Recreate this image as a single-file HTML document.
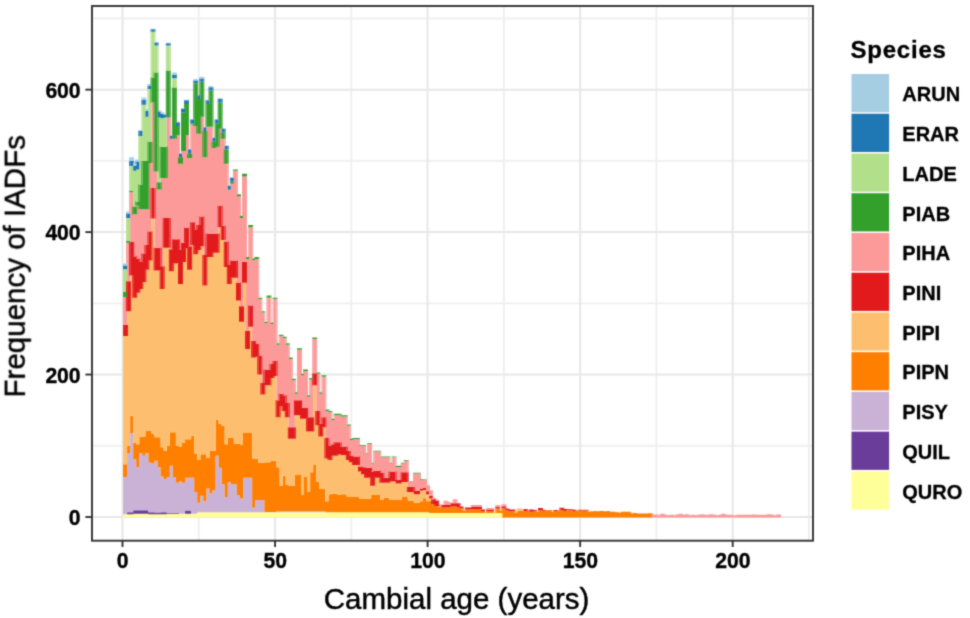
<!DOCTYPE html>
<html><head><meta charset="utf-8"><title>IADF frequency by cambial age</title>
<style>html,body{margin:0;padding:0;background:#fff;width:970px;height:618px;overflow:hidden}svg{display:block}</style>
</head><body><div id="c">
<svg width="970" height="618" viewBox="0 0 970 618"><defs><filter id="soft" filterUnits="userSpaceOnUse" x="0" y="0" width="970" height="618" color-interpolation-filters="sRGB"><feConvolveMatrix order="5" kernelMatrix="0.00001 0.00042 0.00170 0.00042 0.00001 0.00042 0.02740 0.10988 0.02740 0.00042 0.00170 0.10988 0.44065 0.10988 0.00170 0.00042 0.02740 0.10988 0.02740 0.00042 0.00001 0.00042 0.00170 0.00042 0.00001" edgeMode="duplicate"/></filter><filter id="soft2" filterUnits="userSpaceOnUse" x="0" y="0" width="970" height="618" color-interpolation-filters="sRGB"><feConvolveMatrix order="5" kernelMatrix="0.00048 0.00501 0.01095 0.00501 0.00048 0.00501 0.05222 0.11405 0.05222 0.00501 0.01095 0.11405 0.24912 0.11405 0.01095 0.00501 0.05222 0.11405 0.05222 0.00501 0.00048 0.00501 0.01095 0.00501 0.00048" edgeMode="none"/></filter></defs><g filter="url(#soft)"><rect x="0" y="0" width="970" height="618" fill="#fff"/><line x1="198.78" y1="6.0" x2="198.78" y2="540.7" stroke="#EFEFEF" stroke-width="1.9"/><line x1="351.33" y1="6.0" x2="351.33" y2="540.7" stroke="#EFEFEF" stroke-width="1.9"/><line x1="503.88" y1="6.0" x2="503.88" y2="540.7" stroke="#EFEFEF" stroke-width="1.9"/><line x1="656.43" y1="6.0" x2="656.43" y2="540.7" stroke="#EFEFEF" stroke-width="1.9"/><line x1="808.98" y1="6.0" x2="808.98" y2="540.7" stroke="#EFEFEF" stroke-width="1.9"/><line x1="92.0" y1="445.78" x2="813.0" y2="445.78" stroke="#EFEFEF" stroke-width="1.9"/><line x1="92.0" y1="303.34" x2="813.0" y2="303.34" stroke="#EFEFEF" stroke-width="1.9"/><line x1="92.0" y1="160.90" x2="813.0" y2="160.90" stroke="#EFEFEF" stroke-width="1.9"/><line x1="92.0" y1="18.46" x2="813.0" y2="18.46" stroke="#EFEFEF" stroke-width="1.9"/><line x1="122.50" y1="6.0" x2="122.50" y2="540.7" stroke="#E7E7E7" stroke-width="2.0"/><line x1="275.05" y1="6.0" x2="275.05" y2="540.7" stroke="#E7E7E7" stroke-width="2.0"/><line x1="427.60" y1="6.0" x2="427.60" y2="540.7" stroke="#E7E7E7" stroke-width="2.0"/><line x1="580.15" y1="6.0" x2="580.15" y2="540.7" stroke="#E7E7E7" stroke-width="2.0"/><line x1="732.70" y1="6.0" x2="732.70" y2="540.7" stroke="#E7E7E7" stroke-width="2.0"/><line x1="92.0" y1="517.00" x2="813.0" y2="517.00" stroke="#E7E7E7" stroke-width="2.0"/><line x1="92.0" y1="374.56" x2="813.0" y2="374.56" stroke="#E7E7E7" stroke-width="2.0"/><line x1="92.0" y1="232.12" x2="813.0" y2="232.12" stroke="#E7E7E7" stroke-width="2.0"/><line x1="92.0" y1="89.68" x2="813.0" y2="89.68" stroke="#E7E7E7" stroke-width="2.0"/><g><path fill="#FFFF99" d="M124.03 514.29H127.08V517.60H124.03ZM127.08 514.29H130.13V517.60H127.08ZM130.13 514.29H133.18V517.60H130.13ZM133.18 513.80H136.23V517.60H133.18ZM136.23 513.80H139.28V517.60H136.23ZM139.28 513.80H142.33V517.60H139.28ZM142.33 513.80H145.38V517.60H142.33ZM145.38 513.80H148.43V517.60H145.38ZM148.43 514.29H151.48V517.60H148.43ZM151.48 514.29H154.54V517.60H151.48ZM154.54 514.29H157.59V517.60H154.54ZM157.59 514.29H160.64V517.60H157.59ZM160.64 514.29H163.69V517.60H160.64ZM163.69 514.29H166.74V517.60H163.69ZM166.74 513.80H169.79V517.60H166.74ZM169.79 513.80H172.84V517.60H169.79ZM172.84 513.80H175.89V517.60H172.84ZM175.89 513.80H178.94V517.60H175.89ZM178.94 513.80H181.99V517.60H178.94ZM181.99 513.80H185.05V517.60H181.99ZM185.05 513.80H188.10V517.60H185.05ZM188.10 513.80H191.15V517.60H188.10ZM191.15 513.80H194.20V517.60H191.15ZM194.20 513.80H197.25V517.60H194.20ZM197.25 512.37H200.30V517.60H197.25ZM200.30 512.37H203.35V517.60H200.30ZM203.35 512.37H206.40V517.60H203.35ZM206.40 512.37H209.45V517.60H206.40ZM209.45 512.37H212.50V517.60H209.45ZM212.50 512.37H215.56V517.60H212.50ZM215.56 512.37H218.61V517.60H215.56ZM218.61 512.37H221.66V517.60H218.61ZM221.66 512.37H224.71V517.60H221.66ZM224.71 512.37H227.76V517.60H224.71ZM227.76 512.37H230.81V517.60H227.76ZM230.81 512.37H233.86V517.60H230.81ZM233.86 512.37H236.91V517.60H233.86ZM236.91 512.37H239.96V517.60H236.91ZM239.96 512.37H243.01V517.60H239.96ZM243.01 512.37H246.07V517.60H243.01ZM246.07 512.37H249.12V517.60H246.07ZM249.12 512.37H252.17V517.60H249.12ZM252.17 512.37H255.22V517.60H252.17ZM255.22 512.37H258.27V517.60H255.22ZM258.27 512.37H261.32V517.60H258.27ZM261.32 512.37H264.37V517.60H261.32ZM264.37 512.37H267.42V517.60H264.37ZM267.42 512.37H270.47V517.60H267.42ZM270.47 512.37H273.52V517.60H270.47ZM273.52 512.37H276.58V517.60H273.52ZM276.58 512.37H279.63V517.60H276.58ZM279.63 512.37H282.68V517.60H279.63ZM282.68 512.37H285.73V517.60H282.68ZM285.73 512.37H288.78V517.60H285.73ZM288.78 512.37H291.83V517.60H288.78ZM291.83 512.37H294.88V517.60H291.83ZM294.88 512.37H297.93V517.60H294.88ZM297.93 512.37H300.98V517.60H297.93ZM300.98 512.37H304.03V517.60H300.98ZM304.03 512.37H307.09V517.60H304.03ZM307.09 512.37H310.14V517.60H307.09ZM310.14 512.37H313.19V517.60H310.14ZM313.19 512.37H316.24V517.60H313.19ZM316.24 512.37H319.29V517.60H316.24ZM319.29 512.37H322.34V517.60H319.29ZM322.34 512.37H325.39V517.60H322.34ZM325.39 512.37H328.44V517.60H325.39ZM328.44 512.37H331.49V517.60H328.44ZM331.49 512.37H334.54V517.60H331.49ZM334.54 512.37H337.60V517.60H334.54ZM337.60 512.37H340.65V517.60H337.60ZM340.65 512.37H343.70V517.60H340.65ZM343.70 512.37H346.75V517.60H343.70ZM346.75 512.37H349.80V517.60H346.75ZM349.80 512.37H352.85V517.60H349.80ZM352.85 512.37H355.90V517.60H352.85ZM355.90 512.37H358.95V517.60H355.90ZM358.95 512.37H362.00V517.60H358.95ZM362.00 512.37H365.05V517.60H362.00ZM365.05 512.37H368.11V517.60H365.05ZM368.11 512.37H371.16V517.60H368.11ZM371.16 512.37H374.21V517.60H371.16ZM374.21 512.37H377.26V517.60H374.21ZM377.26 512.37H380.31V517.60H377.26ZM380.31 512.37H383.36V517.60H380.31ZM383.36 512.37H386.41V517.60H383.36ZM386.41 512.37H389.46V517.60H386.41ZM389.46 512.37H392.51V517.60H389.46ZM392.51 512.37H395.56V517.60H392.51ZM395.56 512.37H398.62V517.60H395.56ZM398.62 512.37H401.67V517.60H398.62ZM401.67 512.37H404.72V517.60H401.67ZM404.72 512.37H407.77V517.60H404.72ZM407.77 512.37H410.82V517.60H407.77ZM410.82 512.37H413.87V517.60H410.82ZM413.87 512.37H416.92V517.60H413.87ZM416.92 512.37H419.97V517.60H416.92ZM419.97 512.37H423.02V517.60H419.97ZM423.02 512.37H426.07V517.60H423.02ZM426.07 512.37H429.13V517.60H426.07ZM429.13 513.08H432.18V517.60H429.13ZM432.18 513.08H435.23V517.60H432.18ZM435.23 513.08H438.28V517.60H435.23ZM438.28 513.08H441.33V517.60H438.28ZM441.33 513.08H444.38V517.60H441.33ZM444.38 513.08H447.43V517.60H444.38ZM447.43 513.08H450.48V517.60H447.43ZM450.48 513.08H453.53V517.60H450.48ZM453.53 513.08H456.58V517.60H453.53ZM456.58 513.08H459.64V517.60H456.58ZM459.64 513.08H462.69V517.60H459.64ZM462.69 513.08H465.74V517.60H462.69ZM465.74 513.08H468.79V517.60H465.74ZM468.79 513.08H471.84V517.60H468.79ZM471.84 513.08H474.89V517.60H471.84ZM474.89 513.08H477.94V517.60H474.89ZM477.94 513.08H480.99V517.60H477.94ZM480.99 513.08H484.04V517.60H480.99ZM484.04 513.08H487.09V517.60H484.04ZM487.09 513.08H490.15V517.60H487.09ZM490.15 513.08H493.20V517.60H490.15ZM493.20 513.08H496.25V517.60H493.20ZM496.25 513.08H499.30V517.60H496.25ZM499.30 513.08H502.35V517.60H499.30Z"/><path fill="#6A3D9A" d="M127.08 512.16H130.13V514.29H127.08ZM130.13 512.16H133.18V514.29H130.13ZM133.18 510.23H136.23V513.80H133.18ZM136.23 510.23H139.28V513.80H136.23ZM139.28 510.23H142.33V513.80H139.28ZM142.33 510.23H145.38V513.80H142.33ZM145.38 510.23H148.43V513.80H145.38ZM148.43 512.16H151.48V514.29H148.43ZM151.48 512.16H154.54V514.29H151.48ZM154.54 512.51H157.59V514.29H154.54ZM157.59 512.51H160.64V514.29H157.59ZM160.64 512.16H163.69V514.29H160.64ZM163.69 512.16H166.74V514.29H163.69ZM166.74 512.73H169.79V513.80H166.74ZM169.79 512.73H172.84V513.80H169.79ZM172.84 512.73H175.89V513.80H172.84ZM175.89 512.73H178.94V513.80H175.89ZM185.05 510.59H188.10V513.80H185.05ZM188.10 510.59H191.15V513.80H188.10Z"/><path fill="#CAB2D6" d="M124.03 477.12H127.08V514.29H124.03ZM127.08 452.90H130.13V512.16H127.08ZM130.13 432.96H133.18V512.16H130.13ZM133.18 459.31H136.23V510.23H133.18ZM136.23 467.15H139.28V510.23H136.23ZM139.28 452.90H142.33V510.23H139.28ZM142.33 455.75H145.38V510.23H142.33ZM145.38 452.90H148.43V510.23H145.38ZM148.43 462.87H151.48V512.16H148.43ZM151.48 463.58H154.54V512.16H151.48ZM154.54 460.74H157.59V512.51H154.54ZM157.59 467.15H160.64V512.51H157.59ZM160.64 476.40H163.69V512.16H160.64ZM163.69 479.25H166.74V512.16H163.69ZM166.74 477.12H169.79V512.73H166.74ZM169.79 465.72H172.84V512.73H169.79ZM172.84 477.12H175.89V512.73H172.84ZM175.89 482.81H178.94V512.73H175.89ZM178.94 481.39H181.99V513.80H178.94ZM181.99 482.81H185.05V513.80H181.99ZM185.05 477.83H188.10V510.59H185.05ZM188.10 477.83H191.15V510.59H188.10ZM191.15 477.83H194.20V513.80H191.15ZM194.20 492.07H197.25V513.80H194.20ZM197.25 502.76H200.30V512.37H197.25ZM200.30 495.63H203.35V512.37H200.30ZM203.35 501.33H206.40V512.37H203.35ZM206.40 488.51H209.45V512.37H206.40ZM209.45 493.50H212.50V512.37H209.45ZM212.50 489.94H215.56V512.37H212.50ZM215.56 455.75H218.61V512.37H215.56ZM218.61 467.86H221.66V512.37H218.61ZM221.66 484.24H224.71V512.37H221.66ZM224.71 497.06H227.76V512.37H224.71ZM227.76 482.10H230.81V512.37H227.76ZM230.81 484.24H233.86V512.37H230.81ZM233.86 484.24H236.91V512.37H233.86ZM236.91 494.92H239.96V512.37H236.91ZM239.96 498.48H243.01V512.37H239.96ZM243.01 477.83H246.07V512.37H243.01ZM246.07 477.83H249.12V512.37H246.07ZM249.12 477.83H252.17V512.37H249.12ZM252.17 507.74H255.22V512.37H252.17ZM255.22 499.91H258.27V512.37H255.22ZM258.27 499.91H261.32V512.37H258.27ZM261.32 499.91H264.37V512.37H261.32ZM264.37 512.01H267.42V512.37H264.37ZM267.42 512.01H270.47V512.37H267.42ZM270.47 512.01H273.52V512.37H270.47ZM273.52 512.01H276.58V512.37H273.52ZM276.58 510.95H279.63V512.37H276.58ZM279.63 510.95H282.68V512.37H279.63ZM282.68 510.95H285.73V512.37H282.68ZM285.73 510.95H288.78V512.37H285.73ZM288.78 510.95H291.83V512.37H288.78ZM291.83 510.95H294.88V512.37H291.83ZM294.88 510.95H297.93V512.37H294.88ZM297.93 510.95H300.98V512.37H297.93ZM300.98 510.95H304.03V512.37H300.98ZM304.03 510.95H307.09V512.37H304.03ZM307.09 510.95H310.14V512.37H307.09ZM310.14 510.95H313.19V512.37H310.14ZM313.19 510.95H316.24V512.37H313.19ZM316.24 510.95H319.29V512.37H316.24ZM319.29 510.95H322.34V512.37H319.29ZM322.34 510.95H325.39V512.37H322.34Z"/><path fill="#FF7F00" d="M124.03 464.30H127.08V477.12H124.03ZM127.08 445.78H130.13V452.90H127.08ZM130.13 415.87H133.18V432.96H130.13ZM133.18 442.93H136.23V459.31H133.18ZM136.23 444.36H139.28V467.15H136.23ZM139.28 436.52H142.33V452.90H139.28ZM142.33 436.52H145.38V455.75H142.33ZM145.38 430.82H148.43V452.90H145.38ZM148.43 430.82H151.48V462.87H148.43ZM151.48 433.67H154.54V463.58H151.48ZM154.54 437.23H157.59V460.74H154.54ZM157.59 437.23H160.64V467.15H157.59ZM160.64 447.20H163.69V476.40H160.64ZM163.69 450.77H166.74V479.25H163.69ZM166.74 445.78H169.79V477.12H166.74ZM169.79 432.25H172.84V465.72H169.79ZM172.84 432.25H175.89V477.12H172.84ZM175.89 445.78H178.94V482.81H175.89ZM178.94 446.49H181.99V481.39H178.94ZM181.99 442.93H185.05V482.81H181.99ZM185.05 439.37H188.10V477.83H185.05ZM188.10 439.37H191.15V477.83H188.10ZM191.15 435.81H194.20V477.83H191.15ZM194.20 453.61H197.25V492.07H194.20ZM197.25 460.02H200.30V502.76H197.25ZM200.30 454.33H203.35V495.63H200.30ZM203.35 454.33H206.40V501.33H203.35ZM206.40 457.89H209.45V488.51H206.40ZM209.45 450.77H212.50V493.50H209.45ZM212.50 450.77H215.56V489.94H212.50ZM215.56 419.43H218.61V455.75H215.56ZM218.61 423.70H221.66V467.86H218.61ZM221.66 425.84H224.71V484.24H221.66ZM224.71 444.36H227.76V497.06H224.71ZM227.76 437.95H230.81V482.10H227.76ZM230.81 437.95H233.86V484.24H230.81ZM233.86 443.64H236.91V484.24H233.86ZM236.91 443.64H239.96V494.92H236.91ZM239.96 445.07H243.01V498.48H239.96ZM243.01 432.96H246.07V477.83H243.01ZM246.07 432.96H249.12V477.83H246.07ZM249.12 432.96H252.17V477.83H249.12ZM252.17 458.60H255.22V507.74H252.17ZM255.22 458.60H258.27V499.91H255.22ZM258.27 462.87H261.32V499.91H258.27ZM261.32 462.87H264.37V499.91H261.32ZM264.37 462.16H267.42V512.01H264.37ZM267.42 462.16H270.47V512.01H267.42ZM270.47 460.74H273.52V512.01H270.47ZM273.52 460.74H276.58V512.01H273.52ZM276.58 467.15H279.63V510.95H276.58ZM279.63 485.66H282.68V510.95H279.63ZM282.68 475.69H285.73V510.95H282.68ZM285.73 484.95H288.78V510.95H285.73ZM288.78 485.66H291.83V510.95H288.78ZM291.83 485.66H294.88V510.95H291.83ZM294.88 474.98H297.93V510.95H294.88ZM297.93 474.98H300.98V510.95H297.93ZM300.98 494.92H304.03V510.95H300.98ZM304.03 477.12H307.09V510.95H304.03ZM307.09 492.07H310.14V510.95H307.09ZM310.14 472.13H313.19V510.95H310.14ZM313.19 465.01H316.24V510.95H313.19ZM316.24 481.39H319.29V510.95H316.24ZM319.29 488.51H322.34V510.95H319.29ZM322.34 488.51H325.39V510.95H322.34ZM325.39 501.33H328.44V512.37H325.39ZM328.44 494.21H331.49V512.37H328.44ZM331.49 493.50H334.54V512.37H331.49ZM334.54 493.50H337.60V512.37H334.54ZM337.60 494.92H340.65V512.37H337.60ZM340.65 494.21H343.70V512.37H340.65ZM343.70 494.21H346.75V512.37H343.70ZM346.75 497.06H349.80V512.37H346.75ZM349.80 497.06H352.85V512.37H349.80ZM352.85 497.06H355.90V512.37H352.85ZM355.90 497.06H358.95V512.37H355.90ZM358.95 498.48H362.00V512.37H358.95ZM362.00 498.48H365.05V512.37H362.00ZM365.05 498.48H368.11V512.37H365.05ZM368.11 498.48H371.16V512.37H368.11ZM371.16 494.92H374.21V512.37H371.16ZM374.21 494.92H377.26V512.37H374.21ZM377.26 494.92H380.31V512.37H377.26ZM380.31 499.91H383.36V512.37H380.31ZM383.36 497.77H386.41V512.37H383.36ZM386.41 497.77H389.46V512.37H386.41ZM389.46 499.91H392.51V512.37H389.46ZM392.51 499.91H395.56V512.37H392.51ZM395.56 499.91H398.62V512.37H395.56ZM398.62 499.91H401.67V512.37H398.62ZM401.67 497.06H404.72V512.37H401.67ZM404.72 497.06H407.77V512.37H404.72ZM407.77 500.62H410.82V512.37H407.77ZM410.82 500.62H413.87V512.37H410.82ZM413.87 502.76H416.92V512.37H413.87ZM416.92 502.76H419.97V512.37H416.92ZM419.97 501.33H423.02V512.37H419.97ZM423.02 498.13H426.07V512.37H423.02ZM426.07 501.33H429.13V512.37H426.07ZM429.13 500.69H432.18V513.08H429.13ZM432.18 504.32H435.23V513.08H432.18ZM435.23 505.89H438.28V513.08H435.23ZM438.28 506.46H441.33V513.08H438.28ZM441.33 507.46H444.38V513.08H441.33ZM444.38 507.46H447.43V513.08H444.38ZM447.43 507.46H450.48V513.08H447.43ZM450.48 506.46H453.53V513.08H450.48ZM453.53 506.46H456.58V513.08H453.53ZM456.58 507.46H459.64V513.08H456.58ZM459.64 508.45H462.69V513.08H459.64ZM462.69 510.59H465.74V513.08H462.69ZM465.74 509.52H468.79V513.08H465.74ZM468.79 509.52H471.84V513.08H468.79ZM471.84 509.17H474.89V513.08H471.84ZM474.89 509.02H477.94V513.08H474.89ZM477.94 509.17H480.99V513.08H477.94ZM480.99 511.59H484.04V513.08H480.99ZM484.04 512.37H487.09V513.08H484.04ZM487.09 511.09H490.15V513.08H487.09ZM490.15 511.09H493.20V513.08H490.15ZM493.20 512.66H496.25V513.08H493.20ZM496.25 508.45H499.30V513.08H496.25ZM499.30 510.59H502.35V513.08H499.30ZM502.35 508.45H505.40V517.60H502.35ZM505.40 510.59H508.45V517.60H505.40ZM508.45 511.59H511.50V517.60H508.45ZM511.50 511.30H514.55V517.60H511.50ZM514.55 512.66H517.60V517.60H514.55ZM517.60 510.80H520.66V517.60H517.60ZM520.66 510.80H523.71V517.60H520.66ZM523.71 511.16H526.76V517.60H523.71ZM526.76 511.44H529.81V517.60H526.76ZM529.81 511.73H532.86V517.60H529.81ZM532.86 511.16H535.91V517.60H532.86ZM535.91 511.73H538.96V517.60H535.91ZM538.96 510.23H542.01V517.60H538.96ZM542.01 510.80H545.06V517.60H542.01ZM545.06 510.23H548.11V517.60H545.06ZM548.11 509.88H551.17V517.60H548.11ZM551.17 511.73H554.22V517.60H551.17ZM554.22 511.16H557.27V517.60H554.22ZM557.27 510.23H560.32V517.60H557.27ZM560.32 509.88H563.37V517.60H560.32ZM563.37 511.16H566.42V517.60H563.37ZM566.42 510.23H569.47V517.60H566.42ZM569.47 510.23H572.52V517.60H569.47ZM572.52 511.44H575.57V517.60H572.52ZM575.57 510.80H578.62V517.60H575.57ZM578.62 510.59H581.68V517.60H578.62ZM581.68 510.59H584.73V517.60H581.68ZM584.73 510.59H587.78V517.60H584.73ZM587.78 511.87H590.83V517.60H587.78ZM590.83 511.30H593.88V517.60H590.83ZM593.88 511.87H596.93V517.60H593.88ZM596.93 511.30H599.98V517.60H596.93ZM599.98 511.52H603.03V517.60H599.98ZM603.03 511.30H606.08V517.60H603.03ZM606.08 511.87H609.13V517.60H606.08ZM609.13 511.87H612.19V517.60H609.13ZM612.19 511.87H615.24V517.60H612.19ZM615.24 512.16H618.29V517.60H615.24ZM618.29 513.08H621.34V517.60H618.29ZM621.34 511.66H624.39V517.60H621.34ZM624.39 511.66H627.44V517.60H624.39ZM627.44 511.66H630.49V517.60H627.44ZM630.49 513.58H633.54V517.60H630.49ZM633.54 513.01H636.59V517.60H633.54ZM636.59 513.58H639.64V517.60H636.59ZM639.64 513.58H642.70V517.60H639.64ZM642.70 513.58H645.75V517.60H642.70ZM645.75 513.58H648.80V517.60H645.75ZM648.80 513.30H651.85V517.60H648.80Z"/><path fill="#FDBF6F" d="M124.03 336.10H127.08V464.30H124.03ZM127.08 311.17H130.13V445.78H127.08ZM130.13 275.56H133.18V415.87H130.13ZM133.18 297.64H136.23V442.93H133.18ZM136.23 292.66H139.28V444.36H136.23ZM139.28 289.10H142.33V436.52H139.28ZM142.33 281.97H145.38V436.52H142.33ZM145.38 269.87H148.43V430.82H145.38ZM148.43 260.61H151.48V430.82H148.43ZM151.48 218.59H154.54V433.67H151.48ZM154.54 270.58H157.59V437.23H154.54ZM157.59 270.58H160.64V437.23H157.59ZM160.64 289.10H163.69V447.20H160.64ZM163.69 247.79H166.74V450.77H163.69ZM166.74 247.79H169.79V445.78H166.74ZM169.79 271.29H172.84V432.25H169.79ZM172.84 263.46H175.89V432.25H172.84ZM175.89 263.46H178.94V445.78H175.89ZM178.94 284.11H181.99V446.49H178.94ZM181.99 262.03H185.05V442.93H181.99ZM185.05 248.50H188.10V439.37H185.05ZM188.10 269.87H191.15V439.37H188.10ZM191.15 244.94H194.20V435.81H191.15ZM194.20 254.20H197.25V453.61H194.20ZM197.25 249.92H200.30V460.02H197.25ZM200.30 246.36H203.35V454.33H200.30ZM203.35 285.53H206.40V454.33H203.35ZM206.40 257.05H209.45V457.89H206.40ZM209.45 257.05H212.50V450.77H209.45ZM212.50 252.77H215.56V450.77H212.50ZM215.56 252.77H218.61V419.43H215.56ZM218.61 227.13H221.66V423.70H218.61ZM221.66 239.95H224.71V425.84H221.66ZM224.71 267.02H227.76V444.36H224.71ZM227.76 284.11H230.81V437.95H227.76ZM230.81 277.70H233.86V437.95H230.81ZM233.86 277.70H236.91V443.64H233.86ZM236.91 300.49H239.96V443.64H236.91ZM239.96 321.86H243.01V445.07H239.96ZM243.01 282.69H246.07V432.96H243.01ZM246.07 348.92H249.12V432.96H246.07ZM249.12 326.84H252.17V432.96H249.12ZM252.17 357.47H255.22V458.60H252.17ZM255.22 356.75H258.27V458.60H255.22ZM258.27 374.56H261.32V462.87H258.27ZM261.32 394.50H264.37V462.87H261.32ZM264.37 385.24H267.42V462.16H264.37ZM267.42 385.24H270.47V462.16H267.42ZM270.47 378.12H273.52V460.74H270.47ZM273.52 375.98H276.58V460.74H273.52ZM276.58 417.29H279.63V467.15H276.58ZM279.63 406.61H282.68V485.66H279.63ZM282.68 410.88H285.73V475.69H282.68ZM285.73 417.29H288.78V484.95H285.73ZM288.78 438.66H291.83V485.66H288.78ZM291.83 438.66H294.88V485.66H291.83ZM294.88 415.16H297.93V474.98H294.88ZM297.93 415.16H300.98V474.98H297.93ZM300.98 418.72H304.03V494.92H300.98ZM304.03 418.72H307.09V477.12H304.03ZM307.09 431.54H310.14V492.07H307.09ZM310.14 431.54H313.19V472.13H310.14ZM313.19 385.24H316.24V465.01H313.19ZM316.24 425.13H319.29V481.39H316.24ZM319.29 436.52H322.34V488.51H319.29ZM322.34 427.26H325.39V488.51H322.34ZM325.39 458.60H328.44V501.33H325.39ZM328.44 460.02H331.49V494.21H328.44ZM331.49 455.75H334.54V493.50H331.49ZM334.54 455.75H337.60V493.50H334.54ZM337.60 454.33H340.65V494.92H337.60ZM340.65 455.04H343.70V494.21H340.65ZM343.70 455.04H346.75V494.21H343.70ZM346.75 460.02H349.80V497.06H346.75ZM349.80 462.16H352.85V497.06H349.80ZM352.85 465.01H355.90V497.06H352.85ZM355.90 465.01H358.95V497.06H355.90ZM358.95 471.42H362.00V498.48H358.95ZM362.00 474.27H365.05V498.48H362.00ZM365.05 477.83H368.11V498.48H365.05ZM368.11 477.83H371.16V498.48H368.11ZM371.16 485.66H374.21V494.92H371.16ZM374.21 477.83H377.26V494.92H374.21ZM377.26 477.83H380.31V494.92H377.26ZM380.31 482.81H383.36V499.91H380.31ZM383.36 482.81H386.41V497.77H383.36ZM386.41 482.81H389.46V497.77H386.41ZM389.46 481.39H392.51V499.91H389.46ZM392.51 481.39H395.56V499.91H392.51ZM395.56 483.53H398.62V499.91H395.56ZM398.62 483.53H401.67V499.91H398.62ZM401.67 482.10H404.72V497.06H401.67ZM404.72 482.10H407.77V497.06H404.72ZM407.77 492.07H410.82V500.62H407.77ZM410.82 492.07H413.87V500.62H410.82ZM413.87 494.21H416.92V502.76H413.87ZM416.92 494.21H419.97V502.76H416.92ZM419.97 490.65H423.02V501.33H419.97ZM423.02 489.94H426.07V498.13H423.02ZM426.07 494.21H429.13V501.33H426.07ZM429.13 498.48H432.18V500.69H429.13ZM432.18 504.18H435.23V504.32H432.18ZM517.60 509.02H520.66V510.80H517.60ZM520.66 509.02H523.71V510.80H520.66Z"/><path fill="#E31A1C" d="M124.03 324.71H127.08V336.10H124.03ZM127.08 281.26H130.13V311.17H127.08ZM130.13 242.09H133.18V275.56H130.13ZM133.18 256.33H136.23V297.64H133.18ZM136.23 258.47H139.28V292.66H136.23ZM139.28 262.03H142.33V289.10H139.28ZM142.33 253.49H145.38V281.97H142.33ZM145.38 244.94H148.43V269.87H145.38ZM148.43 231.41H151.48V260.61H148.43ZM151.48 187.96H154.54V218.59H151.48ZM154.54 247.79H157.59V270.58H154.54ZM157.59 247.79H160.64V270.58H157.59ZM160.64 266.31H163.69V289.10H160.64ZM163.69 217.88H166.74V247.79H163.69ZM166.74 217.88H169.79V247.79H166.74ZM169.79 249.21H172.84V271.29H169.79ZM172.84 239.24H175.89V263.46H172.84ZM175.89 239.24H178.94V263.46H175.89ZM178.94 249.21H181.99V284.11H178.94ZM181.99 242.80H185.05V262.03H181.99ZM185.05 227.85H188.10V248.50H185.05ZM188.10 246.36H191.15V269.87H188.10ZM191.15 222.15H194.20V244.94H191.15ZM194.20 229.27H197.25V254.20H194.20ZM197.25 225.00H200.30V249.92H197.25ZM200.30 216.45H203.35V246.36H200.30ZM203.35 254.91H206.40V285.53H203.35ZM206.40 233.54H209.45V257.05H206.40ZM209.45 233.54H212.50V257.05H209.45ZM212.50 233.54H215.56V252.77H212.50ZM215.56 233.54H218.61V252.77H215.56ZM218.61 205.77H221.66V227.13H218.61ZM221.66 225.71H224.71V239.95H221.66ZM224.71 241.38H227.76V267.02H224.71ZM227.76 264.88H230.81V284.11H227.76ZM230.81 260.61H233.86V277.70H230.81ZM233.86 260.61H236.91V277.70H233.86ZM236.91 282.69H239.96V300.49H236.91ZM239.96 306.19H243.01V321.86H239.96ZM243.01 262.03H246.07V282.69H243.01ZM246.07 331.12H249.12V348.92H246.07ZM249.12 305.48H252.17V326.84H249.12ZM252.17 341.09H255.22V357.47H252.17ZM255.22 343.94H258.27V356.75H255.22ZM258.27 356.04H261.32V374.56H258.27ZM261.32 383.11H264.37V394.50H261.32ZM264.37 369.57H267.42V385.24H264.37ZM267.42 369.57H270.47V385.24H267.42ZM270.47 363.88H273.52V378.12H270.47ZM273.52 361.03H276.58V375.98H273.52ZM276.58 400.20H279.63V417.29H276.58ZM279.63 393.79H282.68V406.61H279.63ZM282.68 395.21H285.73V410.88H282.68ZM285.73 403.05H288.78V417.29H285.73ZM288.78 427.26H291.83V438.66H288.78ZM291.83 427.26H294.88V438.66H291.83ZM294.88 400.20H297.93V415.16H294.88ZM297.93 400.20H300.98V415.16H297.93ZM300.98 408.03H304.03V418.72H300.98ZM304.03 408.03H307.09V418.72H304.03ZM307.09 417.29H310.14V431.54H307.09ZM310.14 417.29H313.19V431.54H310.14ZM313.19 373.14H316.24V385.24H313.19ZM316.24 410.88H319.29V425.13H316.24ZM319.29 423.70H322.34V436.52H319.29ZM322.34 417.29H325.39V427.26H322.34ZM325.39 437.95H328.44V458.60H325.39ZM328.44 445.78H331.49V460.02H328.44ZM331.49 444.36H334.54V455.75H331.49ZM334.54 442.22H337.60V455.75H334.54ZM337.60 442.22H340.65V454.33H337.60ZM340.65 446.49H343.70V455.04H340.65ZM343.70 446.49H346.75V455.04H343.70ZM346.75 450.77H349.80V460.02H346.75ZM349.80 455.75H352.85V462.16H349.80ZM352.85 456.46H355.90V465.01H352.85ZM355.90 456.46H358.95V465.01H355.90ZM358.95 466.43H362.00V471.42H358.95ZM362.00 467.15H365.05V474.27H362.00ZM365.05 467.86H368.11V477.83H365.05ZM368.11 467.86H371.16V477.83H368.11ZM371.16 471.42H374.21V485.66H371.16ZM374.21 470.71H377.26V477.83H374.21ZM377.26 470.71H380.31V477.83H377.26ZM380.31 472.84H383.36V482.81H380.31ZM383.36 477.83H386.41V482.81H383.36ZM386.41 477.83H389.46V482.81H386.41ZM389.46 471.42H392.51V481.39H389.46ZM392.51 471.42H395.56V481.39H392.51ZM395.56 479.97H398.62V483.53H395.56ZM398.62 479.97H401.67V483.53H398.62ZM401.67 472.13H404.72V482.10H401.67ZM404.72 472.13H407.77V482.10H404.72ZM407.77 487.09H410.82V492.07H407.77ZM410.82 487.09H413.87V492.07H410.82ZM413.87 490.65H416.92V494.21H413.87ZM416.92 490.65H419.97V494.21H416.92ZM419.97 488.51H423.02V490.65H419.97ZM423.02 487.80H426.07V489.94H423.02ZM426.07 491.36H429.13V494.21H426.07ZM429.13 496.06H432.18V498.48H429.13ZM432.18 499.19H435.23V504.18H432.18ZM435.23 500.69H438.28V505.89H435.23ZM441.33 504.89H444.38V507.46H441.33ZM444.38 504.89H447.43V507.46H444.38ZM447.43 504.89H450.48V507.46H447.43ZM450.48 503.33H453.53V506.46H450.48ZM453.53 503.33H456.58V506.46H453.53ZM456.58 503.33H459.64V507.46H456.58ZM459.64 506.39H462.69V508.45H459.64ZM465.74 507.46H468.79V509.52H465.74ZM468.79 507.46H471.84V509.52H468.79ZM471.84 507.03H474.89V509.17H471.84ZM474.89 506.46H477.94V509.02H474.89ZM477.94 507.03H480.99V509.17H477.94ZM480.99 509.52H484.04V511.59H480.99ZM487.09 509.52H490.15V511.09H487.09ZM490.15 509.52H493.20V511.09H490.15ZM496.25 507.03H499.30V508.45H496.25ZM502.35 506.32H505.40V508.45H502.35ZM505.40 508.45H508.45V510.59H505.40ZM508.45 509.52H511.50V511.59H508.45ZM511.50 509.52H514.55V511.30H511.50ZM517.60 508.67H520.66V509.02H517.60ZM523.71 509.02H526.76V511.16H523.71ZM526.76 510.38H529.81V511.44H526.76ZM529.81 509.59H532.86V511.73H529.81ZM532.86 510.09H535.91V511.16H532.86ZM538.96 508.10H542.01V510.23H538.96ZM542.01 509.74H545.06V510.80H542.01ZM554.22 510.09H557.27V511.16H554.22ZM560.32 507.74H563.37V509.88H560.32ZM563.37 509.02H566.42V511.16H563.37ZM566.42 509.17H569.47V510.23H566.42ZM569.47 509.17H572.52V510.23H569.47ZM572.52 509.66H575.57V511.44H572.52ZM578.62 509.74H581.68V510.59H578.62ZM581.68 509.74H584.73V510.59H581.68ZM584.73 509.74H587.78V510.59H584.73ZM593.88 511.30H596.93V511.87H593.88ZM599.98 510.95H603.03V511.52H599.98ZM606.08 511.30H609.13V511.87H606.08Z"/><path fill="#FB9A99" d="M124.03 296.93H127.08V324.71H124.03ZM127.08 242.80H130.13V281.26H127.08ZM130.13 192.24H133.18V242.09H130.13ZM133.18 214.31H136.23V256.33H133.18ZM136.23 205.77H139.28V258.47H136.23ZM139.28 209.33H142.33V262.03H139.28ZM142.33 209.33H145.38V253.49H142.33ZM145.38 209.33H148.43V244.94H145.38ZM148.43 163.04H151.48V231.41H148.43ZM151.48 102.50H154.54V187.96H151.48ZM154.54 171.58H157.59V247.79H154.54ZM157.59 189.39H160.64V247.79H157.59ZM160.64 177.99H163.69V266.31H160.64ZM163.69 177.99H166.74V217.88H163.69ZM166.74 117.46H169.79V217.88H166.74ZM169.79 138.82H172.84V249.21H169.79ZM172.84 138.82H175.89V239.24H172.84ZM175.89 135.26H178.94V239.24H175.89ZM178.94 163.75H181.99V249.21H178.94ZM181.99 150.93H185.05V242.80H181.99ZM185.05 135.26H188.10V227.85H185.05ZM188.10 158.05H191.15V246.36H188.10ZM191.15 124.58H194.20V222.15H191.15ZM194.20 126.00H197.25V229.27H194.20ZM197.25 133.84H200.30V225.00H197.25ZM200.30 116.74H203.35V216.45H200.30ZM203.35 157.34H206.40V254.91H203.35ZM206.40 126.71H209.45V233.54H206.40ZM209.45 126.71H212.50V233.54H209.45ZM212.50 148.08H215.56V233.54H212.50ZM215.56 146.66H218.61V233.54H215.56ZM218.61 128.85H221.66V205.77H218.61ZM221.66 138.82H224.71V225.71H221.66ZM224.71 163.75H227.76V241.38H224.71ZM227.76 190.10H230.81V264.88H227.76ZM230.81 183.69H233.86V260.61H230.81ZM233.86 170.87H236.91V260.61H233.86ZM236.91 196.51H239.96V282.69H236.91ZM239.96 217.88H243.01V306.19H239.96ZM243.01 176.57H246.07V262.03H243.01ZM246.07 259.18H249.12V331.12H246.07ZM249.12 227.13H252.17V305.48H249.12ZM252.17 259.90H255.22V341.09H252.17ZM255.22 259.18H258.27V343.94H255.22ZM258.27 299.07H261.32V356.04H258.27ZM261.32 312.60H264.37V383.11H261.32ZM264.37 323.28H267.42V369.57H264.37ZM267.42 297.64H270.47V369.57H267.42ZM270.47 323.99H273.52V363.88H270.47ZM273.52 299.07H276.58V361.03H273.52ZM276.58 344.65H279.63V400.20H276.58ZM279.63 336.10H282.68V393.79H279.63ZM282.68 338.24H285.73V395.21H282.68ZM285.73 344.65H288.78V403.05H285.73ZM288.78 358.89H291.83V427.26H288.78ZM291.83 380.26H294.88V427.26H291.83ZM294.88 393.79H297.93V400.20H294.88ZM297.93 349.63H300.98V400.20H297.93ZM300.98 375.27H304.03V408.03H300.98ZM304.03 371.00H307.09V408.03H304.03ZM307.09 396.64H310.14V417.29H307.09ZM310.14 379.55H313.19V417.29H310.14ZM313.19 338.95H316.24V373.14H313.19ZM316.24 373.85H319.29V410.88H316.24ZM319.29 393.79H322.34V423.70H319.29ZM322.34 376.70H325.39V417.29H322.34ZM325.39 410.88H328.44V437.95H325.39ZM328.44 412.31H331.49V445.78H328.44ZM331.49 420.14H334.54V444.36H331.49ZM334.54 415.16H337.60V442.22H334.54ZM337.60 415.16H340.65V442.22H337.60ZM340.65 416.58H343.70V446.49H340.65ZM343.70 416.58H346.75V446.49H343.70ZM346.75 425.84H349.80V450.77H346.75ZM349.80 440.08H352.85V455.75H349.80ZM352.85 439.37H355.90V456.46H352.85ZM355.90 439.37H358.95V456.46H355.90ZM358.95 445.78H362.00V466.43H358.95ZM362.00 445.78H365.05V467.15H362.00ZM365.05 453.61H368.11V467.86H365.05ZM368.11 443.64H371.16V467.86H368.11ZM371.16 463.58H374.21V471.42H371.16ZM374.21 451.48H377.26V470.71H374.21ZM377.26 451.48H380.31V470.71H377.26ZM380.31 457.18H383.36V472.84H380.31ZM383.36 457.18H386.41V477.83H383.36ZM386.41 457.18H389.46V477.83H386.41ZM389.46 463.58H392.51V471.42H389.46ZM392.51 457.18H395.56V471.42H392.51ZM395.56 467.15H398.62V479.97H395.56ZM398.62 467.15H401.67V479.97H398.62ZM401.67 463.58H404.72V472.13H401.67ZM404.72 460.74H407.77V472.13H404.72ZM407.77 482.10H410.82V487.09H407.77ZM410.82 482.10H413.87V487.09H410.82ZM413.87 473.56H416.92V490.65H413.87ZM416.92 473.56H419.97V490.65H416.92ZM419.97 479.97H423.02V488.51H419.97ZM423.02 479.97H426.07V487.80H423.02ZM426.07 485.16H429.13V491.36H426.07ZM429.13 490.36H432.18V496.06H429.13ZM432.18 497.63H435.23V499.19H432.18ZM435.23 499.69H438.28V500.69H435.23ZM438.28 504.32H441.33V506.46H438.28ZM444.38 500.69H447.43V504.89H444.38ZM447.43 502.04H450.48V504.89H447.43ZM453.53 499.19H456.58V503.33H453.53ZM471.84 504.89H474.89V507.03H471.84ZM474.89 504.89H477.94V506.46H474.89ZM477.94 504.89H480.99V507.03H477.94ZM487.09 508.03H490.15V509.52H487.09ZM490.15 508.03H493.20V509.52H490.15ZM496.25 504.89H499.30V507.03H496.25ZM502.35 504.32H505.40V506.32H502.35ZM651.85 514.86H654.90V517.60H651.85ZM654.90 514.51H657.95V517.60H654.90ZM657.95 515.22H661.00V517.60H657.95ZM661.00 513.80H664.05V517.60H661.00ZM664.05 514.86H667.10V517.60H664.05ZM667.10 515.22H670.15V517.60H667.10ZM670.15 514.86H673.21V517.60H670.15ZM673.21 515.22H676.26V517.60H673.21ZM676.26 514.51H679.31V517.60H676.26ZM679.31 513.80H682.36V517.60H679.31ZM682.36 514.86H685.41V517.60H682.36ZM685.41 514.15H688.46V517.60H685.41ZM688.46 515.22H691.51V517.60H688.46ZM691.51 514.86H694.56V517.60H691.51ZM694.56 515.22H697.61V517.60H694.56ZM697.61 514.86H700.66V517.60H697.61ZM700.66 514.15H703.72V517.60H700.66ZM703.72 514.86H706.77V517.60H703.72ZM706.77 514.86H709.82V517.60H706.77ZM709.82 514.15H712.87V517.60H709.82ZM712.87 514.86H715.92V517.60H712.87ZM715.92 515.22H718.97V517.60H715.92ZM718.97 514.86H722.02V517.60H718.97ZM722.02 513.80H725.07V517.60H722.02ZM725.07 514.86H728.12V517.60H725.07ZM728.12 514.86H731.17V517.60H728.12ZM731.17 515.22H734.23V517.60H731.17ZM734.23 515.22H737.28V517.60H734.23ZM737.28 514.86H740.33V517.60H737.28ZM740.33 514.86H743.38V517.60H740.33ZM743.38 514.86H746.43V517.60H743.38ZM746.43 514.86H749.48V517.60H746.43ZM749.48 514.86H752.53V517.60H749.48ZM752.53 514.51H755.58V517.60H752.53ZM755.58 514.86H758.63V517.60H755.58ZM758.63 514.86H761.68V517.60H758.63ZM761.68 514.86H764.74V517.60H761.68ZM764.74 514.86H767.79V517.60H764.74ZM767.79 514.15H770.84V517.60H767.79ZM770.84 514.86H773.89V517.60H770.84ZM773.89 515.22H776.94V517.60H773.89ZM776.94 514.51H779.99V517.60H776.94Z"/><path fill="#33A02C" d="M124.03 291.94H127.08V296.93H124.03ZM127.08 240.67H130.13V242.80H127.08ZM130.13 190.81H133.18V192.24H130.13ZM133.18 206.48H136.23V214.31H133.18ZM136.23 201.50H139.28V205.77H136.23ZM139.28 184.40H142.33V209.33H139.28ZM142.33 160.90H145.38V209.33H142.33ZM145.38 160.90H148.43V209.33H145.38ZM148.43 141.67H151.48V163.04H148.43ZM151.48 77.57H154.54V102.50H151.48ZM154.54 72.59H157.59V171.58H154.54ZM157.59 182.27H160.64V189.39H157.59ZM160.64 146.66H163.69V177.99H160.64ZM163.69 146.66H166.74V177.99H163.69ZM166.74 70.45H169.79V117.46H166.74ZM172.84 87.54H175.89V138.82H172.84ZM175.89 126.00H178.94V135.26H175.89ZM178.94 157.34H181.99V163.75H178.94ZM181.99 112.47H185.05V150.93H181.99ZM185.05 103.92H188.10V135.26H185.05ZM188.10 153.78H191.15V158.05H188.10ZM191.15 123.15H194.20V124.58H191.15ZM194.20 83.27H197.25V126.00H194.20ZM197.25 98.94H200.30V133.84H197.25ZM200.30 81.85H203.35V116.74H200.30ZM203.35 130.99H206.40V157.34H203.35ZM206.40 103.92H209.45V126.71H206.40ZM209.45 90.39H212.50V126.71H209.45ZM212.50 141.67H215.56V148.08H212.50ZM215.56 123.15H218.61V146.66H215.56ZM218.61 102.50H221.66V128.85H218.61ZM221.66 132.41H224.71V138.82H221.66ZM224.71 149.50H227.76V163.75H224.71ZM227.76 189.39H230.81V190.10H227.76ZM230.81 181.55H233.86V183.69H230.81ZM233.86 169.45H236.91V170.87H233.86ZM236.91 194.37H239.96V196.51H236.91ZM239.96 215.74H243.01V217.88H239.96ZM243.01 173.72H246.07V176.57H243.01ZM246.07 257.05H249.12V259.18H246.07ZM249.12 225.00H252.17V227.13H249.12ZM252.17 258.47H255.22V259.90H252.17ZM255.22 257.05H258.27V259.18H255.22ZM258.27 297.64H261.32V299.07H258.27ZM261.32 311.17H264.37V312.60H261.32ZM264.37 321.86H267.42V323.28H264.37ZM267.42 295.51H270.47V297.64H267.42ZM270.47 322.57H273.52V323.99H270.47ZM273.52 297.64H276.58V299.07H273.52ZM276.58 343.22H279.63V344.65H276.58ZM279.63 334.68H282.68V336.10H279.63ZM282.68 336.81H285.73V338.24H282.68ZM285.73 343.22H288.78V344.65H285.73ZM288.78 357.47H291.83V358.89H288.78ZM291.83 378.83H294.88V380.26H291.83ZM294.88 392.37H297.93V393.79H294.88ZM297.93 348.21H300.98V349.63H297.93ZM300.98 373.85H304.03V375.27H300.98ZM304.03 369.57H307.09V371.00H304.03ZM307.09 395.21H310.14V396.64H307.09ZM310.14 378.12H313.19V379.55H310.14ZM313.19 337.53H316.24V338.95H313.19ZM316.24 372.42H319.29V373.85H316.24ZM319.29 392.37H322.34V393.79H319.29ZM322.34 375.27H325.39V376.70H322.34ZM325.39 409.46H328.44V410.88H325.39ZM328.44 410.88H331.49V412.31H328.44ZM331.49 418.72H334.54V420.14H331.49ZM334.54 413.73H337.60V415.16H334.54ZM337.60 413.73H340.65V415.16H337.60ZM340.65 415.16H343.70V416.58H340.65ZM343.70 415.16H346.75V416.58H343.70ZM346.75 424.41H349.80V425.84H346.75ZM349.80 438.66H352.85V440.08H349.80ZM352.85 437.95H355.90V439.37H352.85ZM355.90 437.95H358.95V439.37H355.90ZM358.95 445.07H362.00V445.78H358.95ZM362.00 445.07H365.05V445.78H362.00ZM365.05 452.90H368.11V453.61H365.05ZM368.11 442.93H371.16V443.64H368.11ZM371.16 462.87H374.21V463.58H371.16ZM374.21 450.77H377.26V451.48H374.21ZM377.26 450.77H380.31V451.48H377.26ZM380.31 456.46H383.36V457.18H380.31ZM383.36 456.46H386.41V457.18H383.36ZM386.41 456.46H389.46V457.18H386.41ZM389.46 462.87H392.51V463.58H389.46ZM392.51 456.46H395.56V457.18H392.51ZM395.56 465.72H398.62V467.15H395.56ZM398.62 465.72H401.67V467.15H398.62ZM401.67 462.87H404.72V463.58H401.67ZM404.72 460.02H407.77V460.74H404.72ZM407.77 481.39H410.82V482.10H407.77ZM410.82 481.39H413.87V482.10H410.82ZM413.87 472.84H416.92V473.56H413.87ZM416.92 472.84H419.97V473.56H416.92ZM419.97 479.25H423.02V479.97H419.97ZM423.02 479.54H426.07V479.97H423.02Z"/><path fill="#B2DF8A" d="M124.03 269.15H127.08V291.94H124.03ZM127.08 217.88H130.13V240.67H127.08ZM130.13 165.89H133.18V190.81H130.13ZM133.18 170.87H136.23V206.48H133.18ZM136.23 169.45H139.28V201.50H136.23ZM139.28 135.97H142.33V184.40H139.28ZM142.33 104.64H145.38V160.90H142.33ZM145.38 116.74H148.43V160.90H145.38ZM148.43 88.97H151.48V141.67H148.43ZM151.48 31.64H154.54V77.57H151.48ZM154.54 45.52H157.59V72.59H154.54ZM157.59 117.46H160.64V182.27H157.59ZM160.64 118.17H163.69V146.66H160.64ZM163.69 117.46H166.74V146.66H163.69ZM166.74 45.52H169.79V70.45H166.74ZM172.84 78.28H175.89V87.54H172.84Z"/><path fill="#1F78B4" d="M124.03 265.59H127.08V269.15H124.03ZM127.08 213.60H130.13V217.88H127.08ZM130.13 160.90H133.18V165.89H130.13ZM133.18 165.89H136.23V170.87H133.18ZM136.23 161.61H139.28V169.45H136.23ZM139.28 130.77H142.33V135.97H139.28ZM142.33 99.65H145.38V104.64H142.33ZM145.38 111.05H148.43V116.74H145.38ZM148.43 85.76H151.48V88.97H148.43ZM151.48 29.29H154.54V31.64H151.48ZM154.54 42.46H157.59V45.52H154.54ZM157.59 112.11H160.64V117.46H157.59ZM160.64 113.89H163.69V118.17H160.64ZM163.69 114.96H166.74V117.46H163.69ZM166.74 43.17H169.79V45.52H166.74ZM169.79 135.76H172.84V138.82H169.79ZM172.84 74.72H175.89V78.28H172.84ZM175.89 122.23H178.94V126.00H175.89ZM178.94 153.56H181.99V157.34H178.94ZM181.99 108.70H185.05V112.47H181.99ZM185.05 100.15H188.10V103.92H185.05ZM188.10 149.29H191.15V153.78H188.10ZM191.15 119.38H194.20V123.15H191.15ZM194.20 80.42H197.25V83.27H194.20ZM197.25 95.16H200.30V98.94H197.25ZM200.30 78.43H203.35V81.85H200.30ZM203.35 127.21H206.40V130.99H203.35ZM206.40 100.15H209.45V103.92H206.40ZM209.45 87.19H212.50V90.39H209.45ZM212.50 137.90H215.56V141.67H212.50ZM215.56 119.38H218.61V123.15H215.56ZM218.61 98.72H221.66V102.50H218.61ZM221.66 128.64H224.71V132.41H221.66ZM224.71 145.73H227.76V149.50H224.71ZM227.76 185.61H230.81V189.39H227.76ZM230.81 177.78H233.86V181.55H230.81Z"/><path fill="#A6CEE3" d="M124.03 263.46H127.08V265.59H124.03ZM127.08 211.47H130.13V213.60H127.08ZM130.13 157.34H133.18V160.90H130.13ZM133.18 163.04H136.23V165.89H133.18ZM136.23 159.48H139.28V161.61H136.23ZM139.28 130.28H142.33V130.77H139.28ZM142.33 97.51H145.38V99.65H142.33ZM145.38 108.91H148.43V111.05H145.38ZM148.43 83.98H151.48V85.76H148.43ZM151.48 28.79H154.54V29.29H151.48ZM154.54 41.96H157.59V42.46H154.54ZM157.59 110.33H160.64V112.11H157.59ZM160.64 112.47H163.69V113.89H160.64ZM163.69 113.89H166.74V114.96H163.69ZM166.74 42.67H169.79V43.17H166.74ZM169.79 135.26H172.84V135.76H169.79ZM172.84 72.59H175.89V74.72H172.84ZM175.89 121.73H178.94V122.23H175.89ZM178.94 153.07H181.99V153.56H178.94ZM181.99 108.20H185.05V108.70H181.99ZM185.05 99.65H188.10V100.15H185.05ZM188.10 148.79H191.15V149.29H188.10ZM191.15 118.88H194.20V119.38H191.15ZM194.20 79.00H197.25V80.42H194.20ZM197.25 94.67H200.30V95.16H197.25ZM200.30 76.86H203.35V78.43H200.30ZM203.35 126.71H206.40V127.21H203.35ZM206.40 99.65H209.45V100.15H206.40ZM209.45 86.12H212.50V87.19H209.45ZM212.50 137.40H215.56V137.90H212.50ZM215.56 118.88H218.61V119.38H215.56ZM218.61 98.23H221.66V98.72H218.61ZM221.66 128.14H224.71V128.64H221.66ZM224.71 145.23H227.76V145.73H224.71ZM227.76 185.11H230.81V185.61H227.76ZM230.81 177.28H233.86V177.78H230.81Z"/><path fill="#FFFF99" d="M123.08 514.29H124.03V517.60H123.08Z"/><path fill="#CAB2D6" d="M123.08 477.12H124.03V514.29H123.08Z"/><path fill="#FDBF6F" d="M123.08 336.10H124.03V464.30H123.08ZM516.65 509.02H517.60V510.80H516.65Z"/><path fill="#B2DF8A" d="M123.08 269.15H124.03V291.94H123.08ZM126.13 217.88H127.08V240.67H126.13ZM129.18 165.89H130.13V190.81H129.18ZM138.33 135.97H139.28V159.48H138.33ZM141.38 104.64H142.33V130.28H141.38ZM145.38 104.64H146.33V108.91H145.38ZM147.48 88.97H148.43V108.91H147.48ZM150.53 31.64H151.48V77.57H150.53ZM154.54 31.64H155.49V41.96H154.54ZM157.59 45.52H158.54V72.59H157.59ZM165.79 45.52H166.74V70.45H165.79ZM169.79 45.52H170.74V70.45H169.79ZM171.89 78.28H172.84V87.54H171.89ZM175.89 78.28H176.84V87.54H175.89Z"/><path fill="#A6CEE3" d="M123.08 263.46H124.03V265.59H123.08ZM126.13 211.47H127.08V213.60H126.13ZM129.18 157.34H130.13V160.90H129.18ZM133.18 157.34H134.13V160.90H133.18ZM135.28 159.48H136.23V161.61H135.28ZM138.33 130.28H139.28V130.77H138.33ZM141.38 97.51H142.33V99.65H141.38ZM145.38 97.51H146.33V99.65H145.38ZM147.48 83.98H148.43V85.76H147.48ZM150.53 28.79H151.48V29.29H150.53ZM154.54 28.79H155.49V29.29H154.54ZM157.59 41.96H158.54V42.46H157.59ZM160.64 110.33H161.59V112.11H160.64ZM163.69 112.47H164.64V113.89H163.69ZM165.79 42.67H166.74V43.17H165.79ZM169.79 42.67H170.74V43.17H169.79ZM171.89 72.59H172.84V74.72H171.89ZM175.89 72.59H176.84V74.72H175.89ZM178.94 121.73H179.89V122.23H178.94ZM181.04 108.20H181.99V108.70H181.04ZM184.10 99.65H185.05V100.15H184.10ZM188.10 99.65H189.05V100.15H188.10ZM190.20 118.88H191.15V119.38H190.20ZM193.25 79.00H194.20V80.42H193.25ZM197.25 79.00H198.20V80.42H197.25ZM199.35 76.86H200.30V78.43H199.35ZM203.35 76.86H204.30V78.43H203.35ZM205.45 99.65H206.40V100.15H205.45ZM208.50 86.12H209.45V87.19H208.50ZM212.50 86.12H213.45V87.19H212.50ZM214.61 118.88H215.56V119.38H214.61ZM217.66 98.23H218.61V98.72H217.66ZM221.66 98.23H222.61V98.72H221.66ZM224.71 128.14H225.66V128.64H224.71ZM227.76 145.23H228.71V145.73H227.76ZM229.86 177.28H230.81V177.78H229.86Z"/><path fill="#FB9A99" d="M123.08 296.93H124.03V324.71H123.08ZM126.13 242.80H127.08V263.46H126.13ZM129.18 192.24H130.13V211.47H129.18ZM169.79 117.46H170.74V135.26H169.79ZM178.94 135.26H179.89V153.07H178.94ZM181.04 150.93H181.99V153.07H181.04ZM188.10 135.26H189.05V148.79H188.10ZM190.20 124.58H191.15V148.79H190.20ZM203.35 116.74H204.30V126.71H203.35ZM212.50 126.71H213.45V137.40H212.50ZM224.71 138.82H225.66V145.23H224.71ZM227.76 163.75H228.71V185.11H227.76ZM229.86 183.69H230.81V185.11H229.86ZM232.91 170.87H233.86V177.28H232.91ZM236.91 170.87H237.86V194.37H236.91ZM239.96 196.51H240.91V215.74H239.96ZM242.06 176.57H243.01V215.74H242.06ZM246.07 176.57H247.02V257.05H246.07ZM248.17 227.13H249.12V257.05H248.17ZM252.17 227.13H253.12V258.47H252.17ZM258.27 259.18H259.22V297.64H258.27ZM261.32 299.07H262.27V311.17H261.32ZM264.37 312.60H265.32V321.86H264.37ZM266.47 297.64H267.42V321.86H266.47ZM270.47 297.64H271.42V322.57H270.47ZM272.57 299.07H273.52V322.57H272.57ZM276.58 299.07H277.53V343.22H276.58ZM278.68 336.10H279.63V343.22H278.68ZM282.68 336.10H283.63V336.81H282.68ZM285.73 338.24H286.68V343.22H285.73ZM288.78 344.65H289.73V357.47H288.78ZM291.83 358.89H292.78V378.83H291.83ZM294.88 380.26H295.83V392.37H294.88ZM296.98 349.63H297.93V392.37H296.98ZM300.98 349.63H301.93V373.85H300.98ZM303.08 371.00H304.03V373.85H303.08ZM307.09 371.00H308.04V395.21H307.09ZM309.19 379.55H310.14V395.21H309.19ZM312.24 338.95H313.19V373.14H312.24ZM316.24 338.95H317.19V372.42H316.24ZM319.29 373.85H320.24V392.37H319.29ZM321.39 376.70H322.34V392.37H321.39ZM325.39 376.70H326.34V409.46H325.39ZM331.49 412.31H332.44V418.72H331.49ZM333.59 415.16H334.54V418.72H333.59ZM346.75 416.58H347.70V424.41H346.75ZM349.80 425.84H350.75V438.66H349.80ZM358.95 439.37H359.90V445.07H358.95ZM365.05 445.78H366.00V452.90H365.05ZM367.16 443.64H368.11V452.90H367.16ZM371.16 443.64H372.11V462.87H371.16ZM373.26 451.48H374.21V462.87H373.26ZM380.31 451.48H381.26V456.46H380.31ZM389.46 457.18H390.41V462.87H389.46ZM391.56 457.18H392.51V462.87H391.56ZM395.56 457.18H396.51V465.72H395.56ZM400.72 463.58H401.67V465.72H400.72ZM403.77 460.74H404.72V462.87H403.77ZM407.77 460.74H408.72V472.13H407.77ZM412.92 473.56H413.87V481.39H412.92ZM419.97 473.56H420.92V479.25H419.97ZM426.07 479.97H427.02V485.16H426.07ZM429.13 485.16H430.08V490.36H429.13ZM432.18 490.36H433.13V496.06H432.18ZM435.23 497.63H436.18V499.19H435.23ZM438.28 499.69H439.23V500.69H438.28ZM441.33 504.32H442.28V504.89H441.33ZM443.43 500.69H444.38V504.89H443.43ZM447.43 500.69H448.38V502.04H447.43ZM450.48 502.04H451.43V503.33H450.48ZM452.58 499.19H453.53V503.33H452.58ZM456.58 499.19H457.53V503.33H456.58ZM470.89 504.89H471.84V507.03H470.89ZM480.99 504.89H481.94V507.03H480.99ZM486.14 508.03H487.09V509.52H486.14ZM493.20 508.03H494.15V509.52H493.20ZM495.30 504.89H496.25V507.03H495.30ZM499.30 504.89H500.25V507.03H499.30ZM501.40 504.32H502.35V506.32H501.40ZM505.40 504.32H506.35V506.32H505.40ZM653.95 514.51H654.90V514.86H653.95ZM657.95 514.51H658.90V515.22H657.95ZM660.05 513.80H661.00V515.22H660.05ZM664.05 513.80H665.00V514.86H664.05ZM667.10 514.86H668.05V515.22H667.10ZM669.20 514.86H670.15V515.22H669.20ZM673.21 514.86H674.16V515.22H673.21ZM675.31 514.51H676.26V515.22H675.31ZM678.36 513.80H679.31V514.51H678.36ZM682.36 513.80H683.31V514.86H682.36ZM684.46 514.15H685.41V514.86H684.46ZM688.46 514.15H689.41V515.22H688.46ZM690.56 514.86H691.51V515.22H690.56ZM694.56 514.86H695.51V515.22H694.56ZM696.66 514.86H697.61V515.22H696.66ZM699.71 514.15H700.66V514.86H699.71ZM703.72 514.15H704.67V514.86H703.72ZM708.87 514.15H709.82V514.86H708.87ZM712.87 514.15H713.82V514.86H712.87ZM715.92 514.86H716.87V515.22H715.92ZM718.02 514.86H718.97V515.22H718.02ZM721.07 513.80H722.02V514.86H721.07ZM725.07 513.80H726.02V514.86H725.07ZM731.17 514.86H732.12V515.22H731.17ZM736.33 514.86H737.28V515.22H736.33ZM751.58 514.51H752.53V514.86H751.58ZM755.58 514.51H756.53V514.86H755.58ZM766.84 514.15H767.79V514.86H766.84ZM770.84 514.15H771.79V514.86H770.84ZM773.89 514.86H774.84V515.22H773.89ZM775.99 514.51H776.94V515.22H775.99ZM779.99 514.51H780.94V517.60H779.99Z"/><path fill="#FF7F00" d="M123.08 464.30H124.03V477.12H123.08ZM462.69 508.45H463.64V510.59H462.69ZM464.79 509.52H465.74V510.59H464.79ZM480.99 509.17H481.94V509.52H480.99ZM484.04 511.59H484.99V512.37H484.04ZM486.14 511.09H487.09V512.37H486.14ZM493.20 511.09H494.15V512.66H493.20ZM495.30 508.45H496.25V512.66H495.30ZM499.30 508.45H500.25V510.59H499.30ZM501.40 508.45H502.35V510.59H501.40ZM514.55 511.30H515.50V512.66H514.55ZM516.65 510.80H517.60V512.66H516.65ZM535.91 511.16H536.86V511.73H535.91ZM538.01 510.23H538.96V511.73H538.01ZM547.16 509.88H548.11V510.23H547.16ZM551.17 509.88H552.12V511.73H551.17ZM553.27 511.16H554.22V511.73H553.27ZM559.37 509.88H560.32V510.23H559.37ZM577.67 510.59H578.62V510.80H577.67ZM587.78 510.59H588.73V511.87H587.78ZM589.88 511.30H590.83V511.87H589.88ZM615.24 511.87H616.19V512.16H615.24ZM618.29 512.16H619.24V513.08H618.29ZM620.39 511.66H621.34V513.08H620.39ZM630.49 511.66H631.44V513.58H630.49ZM632.59 513.01H633.54V513.58H632.59ZM636.59 513.01H637.54V513.58H636.59ZM647.85 513.30H648.80V513.58H647.85ZM651.85 513.30H652.80V514.86H651.85Z"/><path fill="#E31A1C" d="M123.08 324.71H124.03V336.10H123.08ZM127.08 324.71H128.03V336.10H127.08ZM126.13 296.93H127.08V311.17H126.13ZM126.13 281.26H127.08V291.94H126.13ZM130.13 281.26H131.08V311.17H130.13ZM129.18 242.80H130.13V275.56H129.18ZM133.18 242.09H134.13V256.33H133.18ZM132.23 275.56H133.18V297.64H132.23ZM136.23 292.66H137.18V297.64H136.23ZM136.23 256.33H137.18V258.47H136.23ZM139.28 289.10H140.23V292.66H139.28ZM139.28 258.47H140.23V262.03H139.28ZM142.33 281.97H143.28V289.10H142.33ZM141.38 253.49H142.33V262.03H141.38ZM145.38 269.87H146.33V281.97H145.38ZM144.43 244.94H145.38V253.49H144.43ZM148.43 260.61H149.38V269.87H148.43ZM147.48 231.41H148.43V244.94H147.48ZM151.48 231.41H152.43V260.61H151.48ZM150.53 187.96H151.48V218.59H150.53ZM154.54 187.96H155.49V218.59H154.54ZM153.59 247.79H154.54V270.58H153.59ZM160.64 247.79H161.59V266.31H160.64ZM159.69 270.58H160.64V289.10H159.69ZM163.69 266.31H164.64V289.10H163.69ZM162.74 217.88H163.69V247.79H162.74ZM169.79 217.88H170.74V247.79H169.79ZM168.84 249.21H169.79V271.29H168.84ZM172.84 263.46H173.79V271.29H172.84ZM171.89 239.24H172.84V249.21H171.89ZM178.94 239.24H179.89V249.21H178.94ZM177.99 263.46H178.94V284.11H177.99ZM181.99 262.03H182.94V284.11H181.99ZM181.04 242.80H181.99V249.21H181.04ZM185.05 248.50H186.00V262.03H185.05ZM184.10 227.85H185.05V242.80H184.10ZM188.10 227.85H189.05V246.36H188.10ZM187.15 248.50H188.10V269.87H187.15ZM191.15 246.36H192.10V269.87H191.15ZM190.20 222.15H191.15V244.94H190.20ZM194.20 222.15H195.15V229.27H194.20ZM193.25 244.94H194.20V254.20H193.25ZM197.25 249.92H198.20V254.20H197.25ZM196.30 225.00H197.25V229.27H196.30ZM200.30 246.36H201.25V249.92H200.30ZM199.35 216.45H200.30V225.00H199.35ZM203.35 216.45H204.30V246.36H203.35ZM202.40 254.91H203.35V285.53H202.40ZM206.40 257.05H207.35V285.53H206.40ZM205.45 233.54H206.40V254.91H205.45ZM212.50 252.77H213.45V257.05H212.50ZM218.61 233.54H219.56V252.77H218.61ZM217.66 205.77H218.61V227.13H217.66ZM221.66 205.77H222.61V225.71H221.66ZM220.71 227.13H221.66V239.95H220.71ZM224.71 225.71H225.66V239.95H224.71ZM223.76 241.38H224.71V267.02H223.76ZM227.76 241.38H228.71V264.88H227.76ZM226.81 267.02H227.76V284.11H226.81ZM230.81 277.70H231.76V284.11H230.81ZM229.86 260.61H230.81V264.88H229.86ZM236.91 260.61H237.86V277.70H236.91ZM235.96 282.69H236.91V300.49H235.96ZM239.96 282.69H240.91V300.49H239.96ZM239.01 306.19H239.96V321.86H239.01ZM243.01 306.19H243.96V321.86H243.01ZM242.06 262.03H243.01V282.69H242.06ZM246.07 262.03H247.02V282.69H246.07ZM245.12 331.12H246.07V348.92H245.12ZM249.12 331.12H250.07V348.92H249.12ZM248.17 305.48H249.12V326.84H248.17ZM252.17 305.48H253.12V326.84H252.17ZM251.22 341.09H252.17V357.47H251.22ZM255.22 356.75H256.17V357.47H255.22ZM255.22 341.09H256.17V343.94H255.22ZM258.27 343.94H259.22V356.04H258.27ZM257.32 356.75H258.27V374.56H257.32ZM261.32 356.04H262.27V374.56H261.32ZM260.37 383.11H261.32V394.50H260.37ZM264.37 385.24H265.32V394.50H264.37ZM263.42 369.57H264.37V383.11H263.42ZM270.47 378.12H271.42V385.24H270.47ZM269.52 363.88H270.47V369.57H269.52ZM273.52 375.98H274.47V378.12H273.52ZM272.57 361.03H273.52V363.88H272.57ZM276.58 361.03H277.53V375.98H276.58ZM275.63 400.20H276.58V417.29H275.63ZM279.63 406.61H280.58V417.29H279.63ZM278.68 393.79H279.63V400.20H278.68ZM282.68 393.79H283.63V395.21H282.68ZM281.73 406.61H282.68V410.88H281.73ZM285.73 395.21H286.68V403.05H285.73ZM284.78 410.88H285.73V417.29H284.78ZM288.78 403.05H289.73V417.29H288.78ZM287.83 427.26H288.78V438.66H287.83ZM294.88 427.26H295.83V438.66H294.88ZM293.93 400.20H294.88V415.16H293.93ZM300.98 400.20H301.93V408.03H300.98ZM300.03 415.16H300.98V418.72H300.03ZM307.09 408.03H308.04V417.29H307.09ZM306.14 418.72H307.09V431.54H306.14ZM313.19 417.29H314.14V431.54H313.19ZM312.24 379.55H313.19V385.24H312.24ZM312.24 373.14H313.19V378.12H312.24ZM316.24 373.85H317.19V385.24H316.24ZM315.29 410.88H316.24V425.13H315.29ZM319.29 410.88H320.24V423.70H319.29ZM318.34 425.13H319.29V436.52H318.34ZM322.34 427.26H323.29V436.52H322.34ZM321.39 417.29H322.34V423.70H321.39ZM325.39 417.29H326.34V427.26H325.39ZM324.44 437.95H325.39V458.60H324.44ZM328.44 437.95H329.39V445.78H328.44ZM327.49 458.60H328.44V460.02H327.49ZM331.49 455.75H332.44V460.02H331.49ZM330.54 444.36H331.49V445.78H330.54ZM333.59 442.22H334.54V444.36H333.59ZM337.60 454.33H338.55V455.75H337.60ZM340.65 442.22H341.60V446.49H340.65ZM339.70 454.33H340.65V455.04H339.70ZM346.75 446.49H347.70V450.77H346.75ZM345.80 455.04H346.75V460.02H345.80ZM349.80 450.77H350.75V455.75H349.80ZM348.85 460.02H349.80V462.16H348.85ZM352.85 455.75H353.80V456.46H352.85ZM351.90 462.16H352.85V465.01H351.90ZM358.95 456.46H359.90V465.01H358.95ZM358.00 466.43H358.95V471.42H358.00ZM362.00 466.43H362.95V467.15H362.00ZM361.05 471.42H362.00V474.27H361.05ZM365.05 467.15H366.00V467.86H365.05ZM364.10 474.27H365.05V477.83H364.10ZM371.16 467.86H372.11V471.42H371.16ZM370.21 477.83H371.16V485.66H370.21ZM374.21 477.83H375.16V485.66H374.21ZM373.26 470.71H374.21V471.42H373.26ZM380.31 470.71H381.26V472.84H380.31ZM379.36 477.83H380.31V482.81H379.36ZM383.36 472.84H384.31V477.83H383.36ZM389.46 481.39H390.41V482.81H389.46ZM388.51 471.42H389.46V477.83H388.51ZM395.56 471.42H396.51V479.97H395.56ZM400.72 472.13H401.67V479.97H400.72ZM407.77 472.13H408.72V481.39H407.77ZM406.82 487.09H407.77V492.07H406.82ZM413.87 487.09H414.82V490.65H413.87ZM432.18 496.06H433.13V497.63H432.18ZM431.23 500.69H432.18V504.18H431.23ZM431.23 499.19H432.18V500.69H431.23ZM435.23 499.69H436.18V500.69H435.23ZM435.23 499.19H436.18V499.69H435.23ZM434.28 504.32H435.23V505.89H434.28ZM434.28 504.18H435.23V504.32H434.28ZM438.28 504.32H439.23V505.89H438.28ZM438.28 500.69H439.23V504.32H438.28ZM459.64 503.33H460.59V506.39H459.64ZM462.69 506.39H463.64V508.45H462.69ZM464.79 507.46H465.74V509.52H464.79ZM470.89 507.03H471.84V507.46H470.89ZM480.99 507.03H481.94V509.17H480.99ZM484.04 509.52H484.99V511.59H484.04ZM486.14 509.52H487.09V511.09H486.14ZM493.20 509.52H494.15V511.09H493.20ZM495.30 507.03H496.25V508.45H495.30ZM499.30 507.03H500.25V508.45H499.30ZM501.40 506.32H502.35V508.45H501.40ZM505.40 506.32H506.35V508.45H505.40ZM508.45 508.45H509.40V509.52H508.45ZM514.55 509.52H515.50V511.30H514.55ZM516.65 508.67H517.60V509.02H516.65ZM520.66 508.67H521.61V509.02H520.66ZM526.76 509.02H527.71V510.38H526.76ZM528.86 509.59H529.81V510.38H528.86ZM532.86 509.59H533.81V510.09H532.86ZM535.91 510.09H536.86V511.16H535.91ZM538.01 508.10H538.96V510.23H538.01ZM542.01 508.10H542.96V509.74H542.01ZM545.06 509.74H546.01V510.23H545.06ZM553.27 510.09H554.22V511.16H553.27ZM557.27 510.09H558.22V510.23H557.27ZM559.37 507.74H560.32V509.88H559.37ZM563.37 507.74H564.32V509.02H563.37ZM566.42 509.02H567.37V509.17H566.42ZM572.52 509.17H573.47V509.66H572.52ZM575.57 509.66H576.52V510.80H575.57ZM577.67 509.74H578.62V510.59H577.67ZM587.78 509.74H588.73V510.59H587.78ZM599.03 510.95H599.98V511.30H599.03ZM603.03 510.95H603.98V511.30H603.03ZM609.13 511.30H610.08V511.87H609.13Z"/><path fill="#33A02C" d="M123.08 291.94H124.03V296.93H123.08ZM126.13 240.67H127.08V242.80H126.13ZM129.18 190.81H130.13V192.24H129.18ZM132.23 206.48H133.18V214.31H132.23ZM136.23 206.48H137.18V214.31H136.23ZM135.28 201.50H136.23V205.77H135.28ZM138.33 205.77H139.28V209.33H138.33ZM138.33 184.40H139.28V201.50H138.33ZM141.38 160.90H142.33V184.40H141.38ZM148.43 163.04H149.38V209.33H148.43ZM147.48 141.67H148.43V160.90H147.48ZM151.48 141.67H152.43V163.04H151.48ZM150.53 88.97H151.48V102.50H150.53ZM150.53 83.98H151.48V85.76H150.53ZM150.53 77.57H151.48V83.98H150.53ZM153.59 102.50H154.54V171.58H153.59ZM153.59 72.59H154.54V77.57H153.59ZM157.59 117.46H158.54V171.58H157.59ZM157.59 110.33H158.54V112.11H157.59ZM157.59 72.59H158.54V110.33H157.59ZM156.64 182.27H157.59V189.39H156.64ZM160.64 182.27H161.59V189.39H160.64ZM159.69 146.66H160.64V177.99H159.69ZM166.74 146.66H167.69V177.99H166.74ZM165.79 113.89H166.74V114.96H165.79ZM165.79 70.45H166.74V113.89H165.79ZM169.79 70.45H170.74V117.46H169.79ZM171.89 135.26H172.84V135.76H171.89ZM171.89 87.54H172.84V135.26H171.89ZM175.89 135.26H176.84V138.82H175.89ZM175.89 121.73H176.84V122.23H175.89ZM175.89 87.54H176.84V121.73H175.89ZM178.94 126.00H179.89V135.26H178.94ZM177.99 157.34H178.94V163.75H177.99ZM181.99 157.34H182.94V163.75H181.99ZM181.04 112.47H181.99V150.93H181.04ZM185.05 135.26H186.00V150.93H185.05ZM184.10 108.20H185.05V108.70H184.10ZM184.10 103.92H185.05V108.20H184.10ZM188.10 103.92H189.05V135.26H188.10ZM187.15 153.78H188.10V158.05H187.15ZM191.15 153.78H192.10V158.05H191.15ZM190.20 123.15H191.15V124.58H190.20ZM193.25 124.58H194.20V126.00H193.25ZM193.25 118.88H194.20V119.38H193.25ZM193.25 83.27H194.20V118.88H193.25ZM197.25 94.67H198.20V95.16H197.25ZM197.25 83.27H198.20V94.67H197.25ZM196.30 126.00H197.25V133.84H196.30ZM200.30 116.74H201.25V133.84H200.30ZM199.35 94.67H200.30V95.16H199.35ZM199.35 81.85H200.30V94.67H199.35ZM203.35 81.85H204.30V116.74H203.35ZM202.40 130.99H203.35V157.34H202.40ZM206.40 130.99H207.35V157.34H206.40ZM205.45 103.92H206.40V126.71H205.45ZM208.50 99.65H209.45V100.15H208.50ZM208.50 90.39H209.45V99.65H208.50ZM212.50 90.39H213.45V126.71H212.50ZM211.55 141.67H212.50V148.08H211.55ZM215.56 146.66H216.51V148.08H215.56ZM214.61 137.40H215.56V137.90H214.61ZM214.61 123.15H215.56V137.40H214.61ZM218.61 128.85H219.56V146.66H218.61ZM217.66 118.88H218.61V119.38H217.66ZM217.66 102.50H218.61V118.88H217.66ZM221.66 128.14H222.61V128.64H221.66ZM221.66 102.50H222.61V128.14H221.66ZM220.71 132.41H221.66V138.82H220.71ZM224.71 132.41H225.66V138.82H224.71ZM223.76 149.50H224.71V163.75H223.76ZM227.76 149.50H228.71V163.75H227.76ZM229.86 181.55H230.81V183.69H229.86ZM232.91 169.45H233.86V170.87H232.91ZM236.91 169.45H237.86V170.87H236.91ZM239.96 194.37H240.91V196.51H239.96ZM242.06 173.72H243.01V176.57H242.06ZM246.07 173.72H247.02V176.57H246.07ZM248.17 225.00H249.12V227.13H248.17ZM252.17 225.00H253.12V227.13H252.17ZM254.27 257.05H255.22V258.47H254.27ZM258.27 257.05H259.22V259.18H258.27ZM261.32 297.64H262.27V299.07H261.32ZM264.37 311.17H265.32V312.60H264.37ZM266.47 295.51H267.42V297.64H266.47ZM270.47 295.51H271.42V297.64H270.47ZM272.57 297.64H273.52V299.07H272.57ZM276.58 297.64H277.53V299.07H276.58ZM278.68 334.68H279.63V336.10H278.68ZM282.68 334.68H283.63V336.10H282.68ZM285.73 336.81H286.68V338.24H285.73ZM288.78 343.22H289.73V344.65H288.78ZM291.83 357.47H292.78V358.89H291.83ZM294.88 378.83H295.83V380.26H294.88ZM296.98 348.21H297.93V349.63H296.98ZM300.98 348.21H301.93V349.63H300.98ZM303.08 369.57H304.03V371.00H303.08ZM307.09 369.57H308.04V371.00H307.09ZM309.19 378.12H310.14V379.55H309.19ZM312.24 337.53H313.19V338.95H312.24ZM316.24 337.53H317.19V338.95H316.24ZM319.29 372.42H320.24V373.85H319.29ZM321.39 375.27H322.34V376.70H321.39ZM325.39 375.27H326.34V376.70H325.39ZM328.44 409.46H329.39V410.88H328.44ZM331.49 410.88H332.44V412.31H331.49ZM333.59 413.73H334.54V415.16H333.59ZM340.65 413.73H341.60V415.16H340.65ZM346.75 415.16H347.70V416.58H346.75ZM349.80 424.41H350.75V425.84H349.80ZM351.90 437.95H352.85V438.66H351.90ZM358.95 437.95H359.90V439.37H358.95ZM365.05 445.07H366.00V445.78H365.05ZM367.16 442.93H368.11V443.64H367.16ZM371.16 442.93H372.11V443.64H371.16ZM373.26 450.77H374.21V451.48H373.26ZM380.31 450.77H381.26V451.48H380.31ZM389.46 456.46H390.41V457.18H389.46ZM391.56 456.46H392.51V457.18H391.56ZM395.56 456.46H396.51V457.18H395.56ZM400.72 462.87H401.67V463.58H400.72ZM403.77 460.02H404.72V460.74H403.77ZM407.77 460.02H408.72V460.74H407.77ZM412.92 472.84H413.87V473.56H412.92ZM419.97 472.84H420.92V473.56H419.97ZM423.02 479.25H423.97V479.54H423.02ZM426.07 479.54H427.02V479.97H426.07Z"/><path fill="#1F78B4" d="M123.08 265.59H124.03V269.15H123.08ZM126.13 213.60H127.08V217.88H126.13ZM129.18 160.90H130.13V165.89H129.18ZM133.18 160.90H134.13V163.04H133.18ZM135.28 161.61H136.23V163.04H135.28ZM138.33 130.77H139.28V135.97H138.33ZM141.38 99.65H142.33V104.64H141.38ZM145.38 99.65H146.33V104.64H145.38ZM147.48 85.76H148.43V88.97H147.48ZM150.53 29.29H151.48V31.64H150.53ZM154.54 29.29H155.49V31.64H154.54ZM157.59 42.46H158.54V45.52H157.59ZM160.64 112.11H161.59V112.47H160.64ZM165.79 43.17H166.74V45.52H165.79ZM169.79 43.17H170.74V45.52H169.79ZM171.89 74.72H172.84V78.28H171.89ZM175.89 74.72H176.84V78.28H175.89ZM178.94 122.23H179.89V126.00H178.94ZM181.04 108.70H181.99V112.47H181.04ZM184.10 100.15H185.05V103.92H184.10ZM188.10 100.15H189.05V103.92H188.10ZM190.20 119.38H191.15V123.15H190.20ZM193.25 80.42H194.20V83.27H193.25ZM197.25 80.42H198.20V83.27H197.25ZM199.35 78.43H200.30V81.85H199.35ZM203.35 78.43H204.30V81.85H203.35ZM205.45 100.15H206.40V103.92H205.45ZM208.50 87.19H209.45V90.39H208.50ZM212.50 87.19H213.45V90.39H212.50ZM214.61 119.38H215.56V123.15H214.61ZM217.66 98.72H218.61V102.50H217.66ZM221.66 98.72H222.61V102.50H221.66ZM224.71 128.64H225.66V132.41H224.71ZM227.76 145.73H228.71V149.50H227.76ZM229.86 177.78H230.81V181.55H229.86Z"/></g><rect x="92.0" y="6.0" width="721.0" height="534.7" fill="none" stroke="#333" stroke-width="1.9"/><line x1="85.4" y1="517.00" x2="92.0" y2="517.00" stroke="#333" stroke-width="1.9"/><text x="80.5" y="525.30" text-anchor="end" font-family="'Liberation Sans', sans-serif" font-weight="bold" font-size="21.2" letter-spacing="-0.1" fill="#000" stroke="#000" stroke-width="0.35">0</text><line x1="85.4" y1="374.56" x2="92.0" y2="374.56" stroke="#333" stroke-width="1.9"/><text x="80.5" y="382.86" text-anchor="end" font-family="'Liberation Sans', sans-serif" font-weight="bold" font-size="21.2" letter-spacing="-0.1" fill="#000" stroke="#000" stroke-width="0.35">200</text><line x1="85.4" y1="232.12" x2="92.0" y2="232.12" stroke="#333" stroke-width="1.9"/><text x="80.5" y="240.42" text-anchor="end" font-family="'Liberation Sans', sans-serif" font-weight="bold" font-size="21.2" letter-spacing="-0.1" fill="#000" stroke="#000" stroke-width="0.35">400</text><line x1="85.4" y1="89.68" x2="92.0" y2="89.68" stroke="#333" stroke-width="1.9"/><text x="80.5" y="97.98" text-anchor="end" font-family="'Liberation Sans', sans-serif" font-weight="bold" font-size="21.2" letter-spacing="-0.1" fill="#000" stroke="#000" stroke-width="0.35">600</text><line x1="122.50" y1="540.7" x2="122.50" y2="547" stroke="#333" stroke-width="1.9"/><text x="122.70" y="568.4" text-anchor="middle" font-family="'Liberation Sans', sans-serif" font-weight="bold" font-size="21.2" letter-spacing="-0.1" fill="#000" stroke="#000" stroke-width="0.35">0</text><line x1="275.05" y1="540.7" x2="275.05" y2="547" stroke="#333" stroke-width="1.9"/><text x="275.25" y="568.4" text-anchor="middle" font-family="'Liberation Sans', sans-serif" font-weight="bold" font-size="21.2" letter-spacing="-0.1" fill="#000" stroke="#000" stroke-width="0.35">50</text><line x1="427.60" y1="540.7" x2="427.60" y2="547" stroke="#333" stroke-width="1.9"/><text x="427.80" y="568.4" text-anchor="middle" font-family="'Liberation Sans', sans-serif" font-weight="bold" font-size="21.2" letter-spacing="-0.1" fill="#000" stroke="#000" stroke-width="0.35">100</text><line x1="580.15" y1="540.7" x2="580.15" y2="547" stroke="#333" stroke-width="1.9"/><text x="580.35" y="568.4" text-anchor="middle" font-family="'Liberation Sans', sans-serif" font-weight="bold" font-size="21.2" letter-spacing="-0.1" fill="#000" stroke="#000" stroke-width="0.35">150</text><line x1="732.70" y1="540.7" x2="732.70" y2="547" stroke="#333" stroke-width="1.9"/><text x="732.90" y="568.4" text-anchor="middle" font-family="'Liberation Sans', sans-serif" font-weight="bold" font-size="21.2" letter-spacing="-0.1" fill="#000" stroke="#000" stroke-width="0.35">200</text><text x="456.6" y="609" text-anchor="middle" font-family="'Liberation Sans', sans-serif" font-size="29.5" fill="#000" stroke="#000" stroke-width="0.45">Cambial age (years)</text><text transform="translate(24.8 266.3) rotate(-90)" x="0" y="0" text-anchor="middle" font-family="'Liberation Sans', sans-serif" font-size="29.5" fill="#000" stroke="#000" stroke-width="0.45">Frequency of IADFs</text><text x="850.6" y="58.3" font-family="'Liberation Sans', sans-serif" font-weight="bold" font-size="24" letter-spacing="0.75" fill="#000" stroke="#000" stroke-width="0.3">Species</text><rect x="851.5" y="74.00" width="37.6" height="38.2" fill="#A6CEE3"/><text x="902.3" y="101.30" font-family="'Liberation Sans', sans-serif" font-weight="bold" font-size="20" fill="#000" stroke="#000" stroke-width="0.3">ARUN</text><rect x="851.5" y="113.74" width="37.6" height="38.2" fill="#1F78B4"/><text x="902.3" y="141.04" font-family="'Liberation Sans', sans-serif" font-weight="bold" font-size="20" fill="#000" stroke="#000" stroke-width="0.3">ERAR</text><rect x="851.5" y="153.48" width="37.6" height="38.2" fill="#B2DF8A"/><text x="902.3" y="180.78" font-family="'Liberation Sans', sans-serif" font-weight="bold" font-size="20" fill="#000" stroke="#000" stroke-width="0.3">LADE</text><rect x="851.5" y="193.22" width="37.6" height="38.2" fill="#33A02C"/><text x="902.3" y="220.52" font-family="'Liberation Sans', sans-serif" font-weight="bold" font-size="20" fill="#000" stroke="#000" stroke-width="0.3">PIAB</text><rect x="851.5" y="232.96" width="37.6" height="38.2" fill="#FB9A99"/><text x="902.3" y="260.26" font-family="'Liberation Sans', sans-serif" font-weight="bold" font-size="20" fill="#000" stroke="#000" stroke-width="0.3">PIHA</text><rect x="851.5" y="272.70" width="37.6" height="38.2" fill="#E31A1C"/><text x="902.3" y="300.00" font-family="'Liberation Sans', sans-serif" font-weight="bold" font-size="20" fill="#000" stroke="#000" stroke-width="0.3">PINI</text><rect x="851.5" y="312.44" width="37.6" height="38.2" fill="#FDBF6F"/><text x="902.3" y="339.74" font-family="'Liberation Sans', sans-serif" font-weight="bold" font-size="20" fill="#000" stroke="#000" stroke-width="0.3">PIPI</text><rect x="851.5" y="352.18" width="37.6" height="38.2" fill="#FF7F00"/><text x="902.3" y="379.48" font-family="'Liberation Sans', sans-serif" font-weight="bold" font-size="20" fill="#000" stroke="#000" stroke-width="0.3">PIPN</text><rect x="851.5" y="391.92" width="37.6" height="38.2" fill="#CAB2D6"/><text x="902.3" y="419.22" font-family="'Liberation Sans', sans-serif" font-weight="bold" font-size="20" fill="#000" stroke="#000" stroke-width="0.3">PISY</text><rect x="851.5" y="431.66" width="37.6" height="38.2" fill="#6A3D9A"/><text x="902.3" y="458.96" font-family="'Liberation Sans', sans-serif" font-weight="bold" font-size="20" fill="#000" stroke="#000" stroke-width="0.3">QUIL</text><rect x="851.5" y="471.40" width="37.6" height="38.2" fill="#FFFF99"/><text x="902.3" y="498.70" font-family="'Liberation Sans', sans-serif" font-weight="bold" font-size="20" fill="#000" stroke="#000" stroke-width="0.3">QURO</text></g></svg>
</div></body></html>
